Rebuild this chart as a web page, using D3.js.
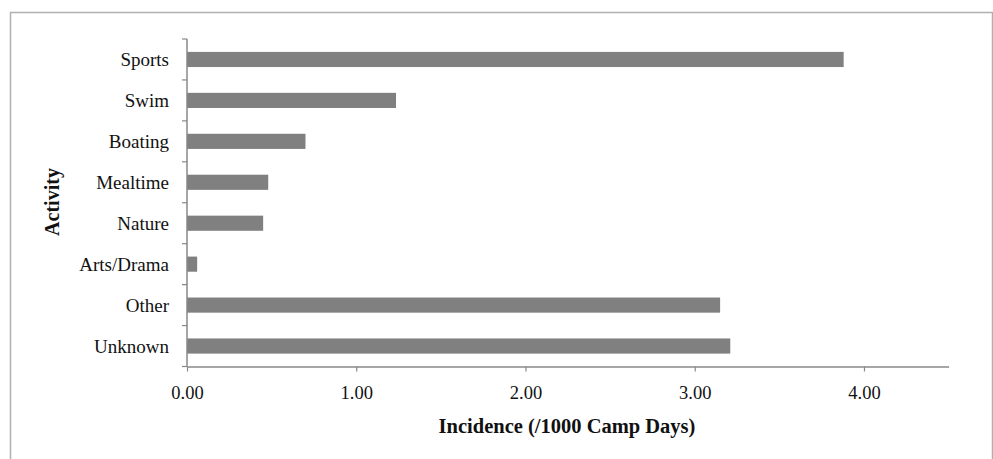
<!DOCTYPE html>
<html><head><meta charset="utf-8">
<script src="https://cdn.jsdelivr.net/npm/d3@7"></script>
<style>body{margin:0;background:#fff}svg{display:block}</style>
</head><body>
<script>
const categories = ["Sports","Swim","Boating","Mealtime","Nature","Arts/Drama","Other","Unknown"];
const values = [3.88,1.235,0.70,0.48,0.45,0.06,3.15,3.21];
const xTicks = [0,1,2,3,4];
const xTitle = "Incidence (/1000 Camp Days)";
const yTitle = "Activity";

(function(){
const W=993,H=459;
const svg=d3.select("body").append("svg").attr("width",W).attr("height",H);
svg.append("path").attr("d","M10.5,459 V12.5 H992.5 V459").attr("fill","none").attr("stroke","#b0b0b0").attr("stroke-width",1.5);

const pL=187, pR=948.6, pT=39, pB=366.5;
const x=d3.scaleLinear().domain([0,4.5]).range([pL,pR]);
const y=d3.scaleBand().domain(categories).range([pT,pB]).paddingInner(0.63).paddingOuter(0.315);
const font="Liberation Serif, DejaVu Serif, serif";

// bars
svg.append("g").selectAll("rect").data(categories).join("rect")
  .attr("x",x(0)).attr("y",d=>y(d)).attr("height",y.bandwidth())
  .attr("width",(d,i)=>x(values[i])-x(0)).attr("fill","#808080");

// x axis
const xa=svg.append("g").attr("transform",`translate(0,${pB})`)
  .call(d3.axisBottom(x).tickValues(xTicks).tickFormat(d3.format(".2f")).tickSizeInner(5).tickSizeOuter(0).tickPadding(14));
xa.select(".domain").attr("stroke","#888").attr("stroke-width",1.5);
xa.selectAll(".tick line").attr("stroke","#888").attr("stroke-width",1.2);
xa.selectAll("text").style("font-family",font).style("font-size","18.5px").attr("fill","#111");

// y axis line and ticks at band boundaries
svg.append("line").attr("x1",pL).attr("x2",pL).attr("y1",pT).attr("y2",pB).attr("stroke","#888").attr("stroke-width",1.5);
const step=(pB-pT)/categories.length;
svg.append("g").selectAll("line").data(d3.range(categories.length+1)).join("line")
  .attr("x1",pL-5).attr("x2",pL).attr("y1",i=>pT+i*step).attr("y2",i=>pT+i*step)
  .attr("stroke","#888").attr("stroke-width",1.2);
svg.append("g").selectAll("text").data(categories).join("text")
  .attr("x",169).attr("y",d=>y(d)+y.bandwidth()/2).attr("dy","0.35em")
  .attr("text-anchor","end").style("font-family",font).style("font-size","19px").attr("fill","#111").text(d=>d);

// titles
svg.append("text").attr("x",567).attr("y",433).attr("text-anchor","middle")
  .style("font-family",font).attr("font-weight","bold").style("font-size","20.5px").attr("fill","#111").text(xTitle);
svg.append("text").attr("transform","translate(59,202) rotate(-90)").attr("text-anchor","middle")
  .style("font-family",font).attr("font-weight","bold").style("font-size","20px").attr("fill","#111").text(yTitle);
})();
</script>
</body></html>
